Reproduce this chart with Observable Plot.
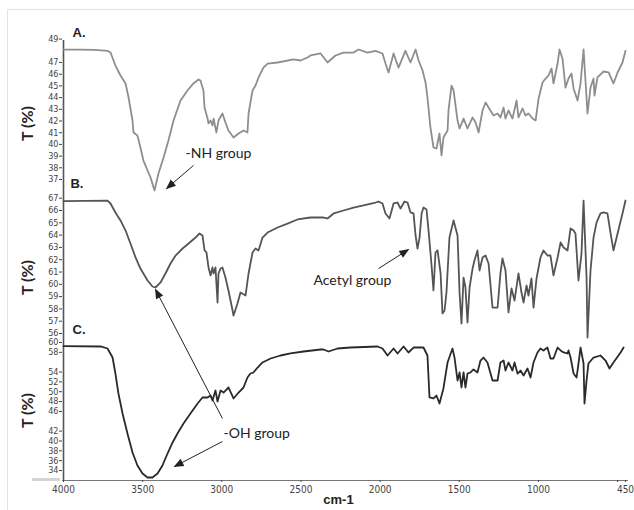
<!DOCTYPE html>
<html><head><meta charset="utf-8">
<script src="https://cdn.jsdelivr.net/npm/d3@7"></script>
<script src="https://cdn.jsdelivr.net/npm/@observablehq/plot@0.6"></script>
<style>
body{margin:0;background:#fff;}
#wrap{position:relative;width:634px;height:510px;overflow:hidden;background:#fff;}
#wrap svg{position:absolute;left:0;top:0;}
#border{position:absolute;left:7px;top:9px;width:700px;height:600px;border-top:1px solid #e3e3e3;border-left:1px solid #e3e3e3;}
</style></head><body><div id="wrap"><div id="border"></div></div>
<script>
// Spectrum A (-NH)
const wnA = [4000,3900,3800,3722,3703,3672,3640,3608,3589,3564,3558,3533,3514,3495,3469,3450,3425,3406,3400,3368,3337,3305,3261,3217,3179,3147,3135,3116,3109,3090,3084,3071,3059,3052,3034,3021,2996,2977,2958,2926,2894,2863,2838,2831,2806,2787,2768,2737,2711,2648,2585,2547,2503,2459,2440,2376,2332,2282,2231,2168,2136,2080,2029,1985,1966,1947,1915,1884,1840,1808,1776,1757,1732,1713,1701,1682,1663,1644,1625,1612,1600,1574,1568,1549,1536,1511,1498,1473,1448,1416,1397,1378,1353,1334,1315,1284,1258,1240,1220,1208,1189,1164,1138,1126,1100,1082,1063,1037,1018,999,974,955,936,917,905,879,867,848,829,810,791,778,753,734,715,690,671,652,646,627,589,557,526,500,469,450];
const tA = [48.1,48.1,48.08,48.0,47.85,46.74,45.89,45.21,44.01,42.04,41.02,40.76,39.74,38.62,37.77,37.17,36.06,37.17,37.51,38.88,40.33,42.04,43.75,44.61,45.21,45.55,45.46,44.61,43.15,42.21,41.79,42.04,41.62,42.21,41.02,42.04,42.64,41.87,41.19,40.59,40.93,41.19,41.02,42.64,44.61,45.03,45.72,46.57,46.91,47.0,47.17,47.26,47.17,47.43,47.6,47.77,47.0,47.6,47.85,47.85,48.11,47.85,48.0,47.77,46.91,46.15,47.77,46.57,48.0,47.0,48.11,47.17,46.32,45.29,44.01,41.44,39.74,39.65,40.93,39.05,40.59,41.19,42.9,45.03,44.61,42.04,41.36,42.21,41.36,42.3,41.87,41.02,42.9,43.58,43.15,42.47,42.64,42.3,43.15,42.21,42.9,42.21,43.75,42.3,43.07,42.47,42.64,42.21,42.04,43.92,45.29,45.63,45.89,46.49,45.21,46.91,48.11,47.34,44.86,45.63,46.06,44.78,43.75,45.21,48.11,42.64,44.86,45.63,44.18,45.72,46.23,46.15,45.21,46.15,47.0,48.0];

// Spectrum B (acetyl)
const wnB = [4000,3722,3703,3672,3640,3608,3577,3545,3514,3469,3438,3419,3387,3356,3324,3292,3248,3210,3166,3141,3122,3109,3097,3084,3071,3059,3052,3040,3027,3021,3008,2996,2977,2958,2932,2926,2901,2882,2850,2831,2806,2787,2768,2743,2711,2648,2585,2522,2440,2376,2358,2332,2294,2231,2168,2105,2029,2010,1985,1966,1941,1915,1890,1871,1846,1827,1808,1789,1776,1764,1751,1738,1726,1707,1694,1675,1663,1650,1637,1618,1606,1593,1581,1562,1536,1511,1498,1486,1473,1461,1448,1435,1416,1404,1385,1372,1353,1334,1315,1290,1258,1240,1227,1208,1189,1170,1151,1126,1107,1094,1075,1063,1044,1031,1012,987,968,943,924,905,879,860,841,816,797,778,766,747,728,715,696,690,671,652,633,608,589,564,545,526,500,469,450];
const tB = [66.76,66.81,66.57,65.84,65.19,64.37,63.32,62.18,61.28,60.31,59.82,59.74,60.15,60.88,61.69,62.34,62.91,63.32,63.8,64.13,63.97,62.75,62.59,61.37,60.72,61.37,60.88,61.37,58.52,60.88,61.28,61.37,60.55,59.5,57.87,57.46,58.44,59.33,59.09,60.88,62.59,62.91,62.75,63.8,64.21,64.62,64.94,65.27,65.43,65.43,65.43,65.35,65.76,66.0,66.24,66.41,66.65,66.73,66.57,65.76,65.35,66.57,66.65,66.16,66.73,66.65,65.84,65.76,63.97,62.91,63.8,65.76,66.24,66.08,64.37,61.53,59.5,62.59,62.75,60.88,57.63,57.87,59.33,63.8,65.19,63.97,59.25,56.81,60.55,59.74,56.89,59.74,61.28,61.93,62.75,61.12,62.18,62.34,61.69,58.11,58.11,60.88,62.1,61.12,57.71,59.66,58.68,60.88,59.33,58.52,59.9,59.09,60.47,58.11,60.47,62.18,62.75,62.34,62.34,60.72,62.18,63.4,62.99,62.75,64.54,64.37,64.13,60.31,62.5,66.81,60.55,55.67,61.12,63.8,65.02,65.76,65.84,65.76,64.21,62.75,64.13,65.76,66.81];

// Spectrum C (-OH)
const wnC = [4000,3766,3722,3690,3672,3653,3627,3596,3564,3533,3501,3469,3438,3406,3375,3343,3311,3280,3242,3198,3153,3122,3090,3071,3059,3040,3027,3008,2989,2958,2926,2894,2863,2838,2819,2800,2774,2743,2692,2629,2566,2484,2376,2358,2326,2269,2187,2016,1985,1953,1915,1890,1852,1821,1789,1726,1701,1688,1663,1644,1625,1600,1574,1543,1530,1511,1498,1486,1473,1461,1448,1429,1410,1385,1366,1347,1322,1290,1258,1240,1220,1208,1189,1164,1151,1132,1113,1094,1069,1050,1031,1006,987,968,943,924,905,879,860,841,816,810,797,778,759,747,734,715,709,696,684,652,608,576,551,526,481,462];
const tC = [59.25,59.19,58.78,56.95,53.7,49.64,45.58,41.52,37.66,35.02,33.39,32.58,32.58,33.39,35.02,37.45,39.69,41.52,43.55,45.58,47.61,48.83,48.83,49.23,48.22,50.25,48.02,50.25,49.84,50.86,48.63,49.84,50.86,52.89,53.7,53.91,54.92,55.94,56.75,57.36,57.77,58.17,58.58,58.58,58.17,58.78,58.98,59.19,58.78,57.36,58.78,57.77,59.19,57.97,58.98,58.98,57.36,48.83,48.63,49.23,47.61,50.66,55.94,58.78,56.95,52.28,53.91,50.86,53.91,50.86,53.7,53.91,54.52,53.91,56.34,56.95,55.94,52.28,52.28,55.94,56.34,54.31,55.94,54.31,55.94,53.7,54.31,53.3,54.72,52.89,55.94,57.97,58.78,58.38,58.98,56.75,56.75,58.98,58.38,57.97,57.77,58.38,56.95,53.7,52.89,55.73,58.98,55.73,47.61,52.28,55.73,56.95,57.36,56.34,54.72,55.94,57.97,58.98];

const ticksA = [49,47,46,45,44,43,42,41,40,39,38,37];
const ticksB = [67,66,65,64,63,62,61,60,59,58,57,56];
const ticksC = [60,58,54,52,50,48,46,42,40,38,36,34];
const ticksX = [4000,3500,3000,2500,2000,1500,1000,500,450];
const labelsX = [4000,3500,3000,2500,2000,1500,1000,450];

const rows = (w, t) => w.map((x, i) => ({w: x, t: t[i]}));
const tickFont = "'Liberation Sans Narrow','DejaVu Sans Condensed','Liberation Sans',Arial,sans-serif";
const common = {
  width: 634, height: 510,
  marginTop: 40, marginBottom: 30, marginLeft: 62, marginRight: 7,
  style: {background: "transparent", overflow: "visible", fontFamily: tickFont, fontSize: "9px", color: "#333"}
};
const xScale = {domain: [4000, 450], range: [63, 625]};
const labelFont = "'Liberation Sans',Arial,sans-serif";
const noteFont = "Lato,'Open Sans',sans-serif";
const yTick = {tickSize: 3, tickPadding: 1, label: null, fontSize: 9, color: "#444"};

function filledHeads(svg) {
  svg.querySelectorAll("marker").forEach(m => {
    m.setAttribute("viewBox", "-10 -5 12 10");
    m.setAttribute("markerWidth", 12);
    m.setAttribute("markerHeight", 10);
    const col = m.getAttribute("stroke") || "#222";
    m.setAttribute("fill", col);
    m.setAttribute("stroke", "none");
    m.innerHTML = "";
    const p = document.createElementNS("http://www.w3.org/2000/svg", "path");
    p.setAttribute("d", "M-9,-4L1,0L-9,4Z");
    m.appendChild(p);
  });
  return svg;
}

const plotA = Plot.plot({
  ...common,
  x: {...xScale, axis: null},
  y: {domain: [37, 47], range: [179, 62], axis: null},
  marks: [
    Plot.axisY({ticks: ticksA, ...yTick}),
    Plot.line(rows(wnA, tA), {x: "w", y: "t", stroke: "#8e8e8e", strokeWidth: 1.8}),
    Plot.text(["A."], {x: 3943, y: 49.56, textAnchor: "start", fontSize: 13, fontWeight: "bold", fontFamily: labelFont, fill: "#222"}),
    Plot.text(["T (%)"], {x: 4227, y: 41.79, rotate: -90, fontSize: 16, fontWeight: "bold", fontFamily: noteFont, fill: "#222"}),
    Plot.text(["-NH group"], {x: 3229, y: 39.22, textAnchor: "start", fontSize: 14, fontFamily: noteFont, fill: "#222"}),
    Plot.link([0], {x1: 3179, y1: 38.2, x2: 3349, y2: 36.23, stroke: "#222", strokeWidth: 1, markerEnd: "arrow"})
  ]
});

const plotB = Plot.plot({
  ...common,
  x: {...xScale, axis: null},
  y: {domain: [56, 67], range: [333, 197.7], axis: null},
  marks: [
    Plot.axisY({ticks: ticksB, ...yTick}),
    Plot.line(rows(wnB, tB), {x: "w", y: "t", stroke: "#555", strokeWidth: 1.8}),
    Plot.text(["B."], {x: 3956, y: 68.2, textAnchor: "start", fontSize: 13, fontWeight: "bold", fontFamily: labelFont, fill: "#222"}),
    Plot.text(["T (%)"], {x: 4227, y: 60.55, rotate: -90, fontSize: 16, fontWeight: "bold", fontFamily: noteFont, fill: "#222"}),
    Plot.text(["Acetyl group"], {x: 2421, y: 60.31, textAnchor: "start", fontSize: 14, fontFamily: noteFont, fill: "#222"}),
    Plot.link([0], {x1: 2010, y1: 61.28, x2: 1821, y2: 62.83, stroke: "#222", strokeWidth: 1, markerEnd: "arrow"})
  ]
});

const plotC = Plot.plot({
  ...common,
  x: xScale,
  y: {domain: [34, 60], range: [470, 342], axis: null},
  marks: [
    Plot.rect([0], {x1: 4196, x2: 4019, y1: 32.37, y2: 31.77, fill: "#d4d4d4"}),
    Plot.axisY({ticks: ticksC, ...yTick}),
    Plot.ruleX([4000], {stroke: "#555", strokeWidth: 1.6}),
    Plot.frame({anchor: "bottom", stroke: "#777"}),
    Plot.axisX({ticks: ticksX, tickSize: 2, tickPadding: 3, label: null, fontSize: 10, color: "#444",
      tickFormat: d => labelsX.includes(d) ? String(d) : ""}),
    Plot.line(rows(wnC, tC), {x: "w", y: "t", stroke: "#2a2a2a", strokeWidth: 1.8}),
    Plot.text(["C."], {x: 3943, y: 62.64, textAnchor: "start", fontSize: 13, fontWeight: "bold", fontFamily: labelFont, fill: "#222"}),
    Plot.text(["T (%)"], {x: 4227, y: 46.19, rotate: -90, fontSize: 16, fontWeight: "bold", fontFamily: noteFont, fill: "#222"}),
    Plot.text(["-OH group"], {x: 2989, y: 41.52, textAnchor: "start", fontSize: 14, fontFamily: noteFont, fill: "#222"}),
    Plot.link([0], {x1: 2996, y1: 44.56, x2: 3419, y2: 70.77, stroke: "#222", strokeWidth: 1, markerEnd: "arrow"}),
    Plot.link([0], {x1: 2996, y1: 39.89, x2: 3299, y2: 34.81, stroke: "#222", strokeWidth: 1, markerEnd: "arrow"}),
    Plot.text(["cm-1"], {x: 2263, y: 28.1, fontSize: 13, fontWeight: 600, fontFamily: labelFont, fill: "#222"})
  ]
});

const wrap = document.getElementById("wrap");
[plotC, plotB, plotA].forEach(p => wrap.appendChild(filledHeads(p)));
</script>
</body></html>
